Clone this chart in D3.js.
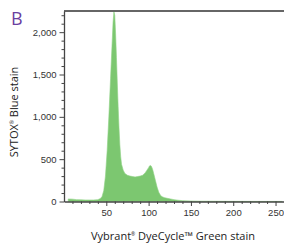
<!DOCTYPE html>
<html>
<head>
<meta charset="utf-8">
<style>
  body { margin: 0; background: #fff; }
  svg { display: block; font-family: "Open Sans", "DejaVu Sans", sans-serif; }
  .axis path, .axis line { stroke: #444; }
  .axis text { fill: #333; font-size: 9.5px; }
</style>
</head>
<body>
<div id="chart"></div>
<script src="https://d3js.org/d3.v7.min.js"></script>
<script>
// Vybrant DyeCycle Green channel (x) and event counts (y)
const channel = [5, 10, 15, 20, 25, 30, 35, 40, 43, 45, 47, 49, 51, 53, 55, 57, 58, 59, 60, 61, 62, 63, 64, 65, 66, 67, 68, 70, 72, 75, 78, 81, 84, 87, 90, 93, 96, 98, 100, 101, 102, 103, 104, 105, 106, 108, 110, 112, 114, 116, 119, 122, 126, 130, 135, 140, 150, 160, 180, 200, 230, 258];
const counts  = [30, 28, 22, 20, 18, 18, 18, 22, 35, 60, 130, 300, 600, 1000, 1450, 1900, 2120, 2240, 2200, 1980, 1700, 1400, 1120, 870, 670, 530, 440, 370, 330, 310, 300, 295, 290, 295, 300, 310, 340, 370, 400, 420, 425, 420, 400, 370, 330, 250, 170, 110, 75, 55, 45, 38, 30, 22, 15, 10, 6, 4, 3, 2, 1, 1];
const xTicks = [50, 100, 150, 200, 250];
const yTicks = [0, 500, 1000, 1500, 2000];

const width = 284, height = 243;
const svg = d3.select('#chart').append('svg')
  .attr('width', width)
  .attr('height', height);

const x = d3.scaleLinear().domain([0, 260]).range([64, 284]);
const y = d3.scaleLinear().domain([0, 2250]).range([201.5, 11]);

const data = channel.map((c, i) => ({x: c, y: counts[i]}));

// histogram area
const area = d3.area()
  .x(d => x(d.x))
  .y0(y(0))
  .y1(d => y(d.y));

svg.append('path')
  .datum(data)
  .attr('d', area)
  .attr('fill', '#7cc770')
  .attr('stroke', '#8fd184')
  .attr('stroke-width', 0.6);

// top frame line
svg.append('line')
  .attr('x1', x(0)).attr('x2', width)
  .attr('y1', y(2250)).attr('y2', y(2250))
  .attr('stroke', '#333')
  .attr('stroke-width', 1.4);

// minor ticks
const xMinor = d3.range(10, 260, 10).filter(v => v % 50 !== 0);
svg.append('g')
  .attr('class', 'axis')
  .attr('transform', `translate(0, ${y(0)})`)
  .call(d3.axisBottom(x).tickValues(xMinor).tickSize(2.5).tickFormat(''))
  .call(g => g.select('.domain').remove());

const yMinor = d3.range(100, 2250, 100).filter(v => v % 500 !== 0);
svg.append('g')
  .attr('class', 'axis')
  .attr('transform', `translate(${x(0)}, 0)`)
  .call(d3.axisLeft(y).tickValues(yMinor).tickSize(2.5).tickFormat(''))
  .call(g => g.select('.domain').remove());

// major axes
svg.append('g')
  .attr('class', 'axis')
  .attr('transform', `translate(0, ${y(0)})`)
  .call(d3.axisBottom(x).tickValues(xTicks).tickSize(4.5).tickSizeOuter(0).tickPadding(3))
  .call(g => g.select('.domain').attr('stroke-width', 1.3));

svg.append('g')
  .attr('class', 'axis')
  .attr('transform', `translate(${x(0)}, 0)`)
  .call(d3.axisLeft(y).tickValues(yTicks).tickSize(4.5).tickSizeOuter(0).tickPadding(3).tickFormat(d3.format(',')))
  .call(g => g.select('.domain').attr('stroke-width', 1.3));

// axis titles
const xTitle = svg.append('text')
  .attr('x', 173).attr('y', 240)
  .attr('text-anchor', 'middle')
  .attr('font-size', 11)
  .attr('fill', '#222');
xTitle.append('tspan').text('Vybrant');
xTitle.append('tspan').text('®').attr('font-size', 5).attr('dy', -4);
xTitle.append('tspan').text(' DyeCycle™ Green stain').attr('dy', 4);

const yTitle = svg.append('text')
  .attr('transform', 'translate(18, 112) rotate(-90)')
  .attr('text-anchor', 'middle')
  .attr('font-size', 11)
  .attr('fill', '#222');
yTitle.append('tspan').text('SYTOX');
yTitle.append('tspan').text('®').attr('font-size', 5).attr('dy', -4);
yTitle.append('tspan').text(' Blue stain').attr('dy', 4);

// panel letter
svg.append('text')
  .attr('x', 11).attr('y', 25)
  .attr('font-size', 18)
  .attr('fill', '#6b3fa0')
  .text('B');
</script>
</body>
</html>
